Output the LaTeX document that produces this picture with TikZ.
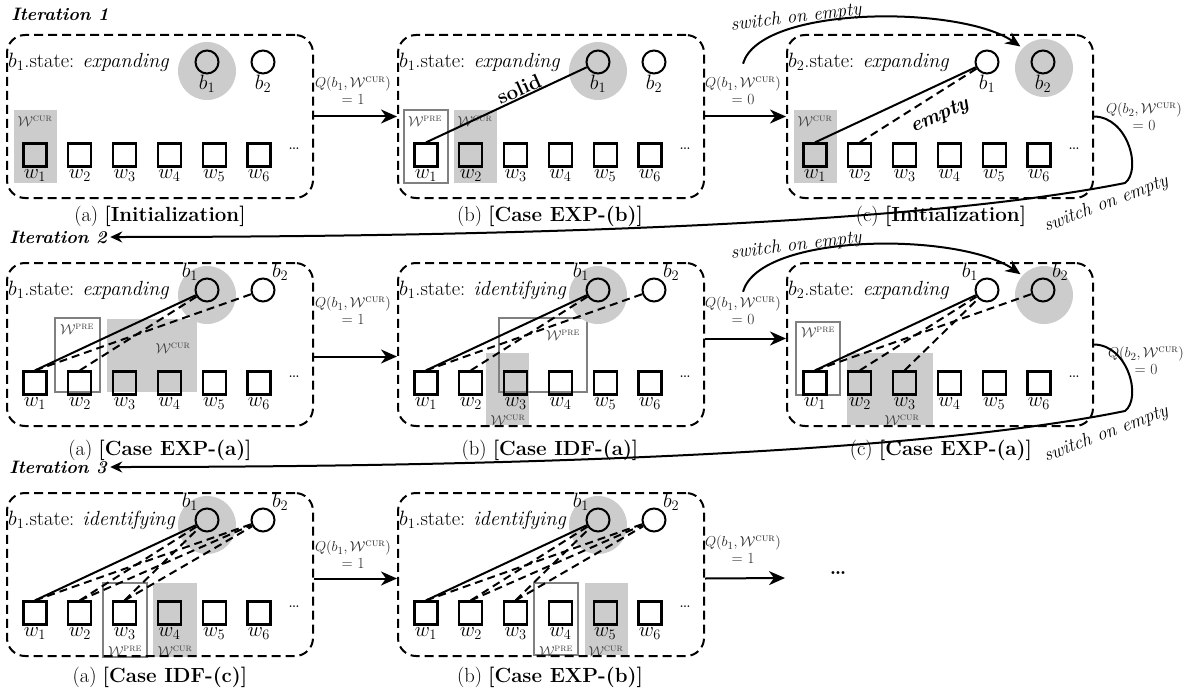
\documentclass[tikz,border=0pt]{standalone}
\usepackage{amsmath}
\usepackage{amssymb}
\usepackage{tikz}
\usepackage{xcolor}
\usetikzlibrary{arrows.meta}

\definecolor{wingray}{gray}{0.8}
\definecolor{preedge}{gray}{0.5}

\newcommand{\Wcur}{$\mathcal{W}^{\textsc{cur}}$}
\newcommand{\Wpre}{$\mathcal{W}^{\textsc{pre}}$}

% #1 name, #2 #3 top left corner, #4 state text, #5 #6 label sides of b1 b2, #7 windows
\newcommand{\casepanel}[7]{%
  \begin{scope}[shift={(#2,#3)}]
    #7
    \node[panelbox] (#1) at (153,81.5) {};
    \node[statetxt] (#1-st) at (1,27) {#4};
    \node[bnode,label={[blab]#5:$b_1$}] (#1-b1) at (200,27) {};
    \node[bnode,label={[blab]#6:$b_2$}] (#1-b2) at (256,27) {};
    \foreach \i in {1,...,6}
      \node[wnode,label={[wlabel]below:$w_{\i}$}] (#1-w\i) at ({28+44.8*(\i-1)},120) {};
    \node (#1-dots) at (287,114) {\dots};
  \end{scope}}

\begin{document}
\begin{tikzpicture}[x=1pt,y=-1pt,font=\fontsize{20.5}{24}\selectfont,
  panelbox/.style={draw,line width=2pt,dash pattern=on 9pt off 5pt,rounded corners=18pt,
    minimum width=306pt,minimum height=163pt,inner sep=0pt},
  statetxt/.style={anchor=west,inner sep=0pt},
  bnode/.style={draw,circle,line width=2pt,minimum size=23pt,inner sep=0pt},
  wnode/.style={draw,line width=2.2pt,minimum size=23pt,inner sep=0pt},
  blab/.style={inner sep=0pt},
  wlabel/.style={inner sep=2pt},
  winlab/.style={font=\fontsize{15}{16}\selectfont,inner sep=0pt,text=black!75},
  prewin/.style={draw=preedge,line width=1.6pt},
  solidlink/.style={line width=2pt},
  dashlink/.style={line width=2pt,dash pattern=on 8pt off 5pt},
  qlab/.style={font=\fontsize{15.5}{17}\selectfont,align=center,inner sep=1pt,text=black!85},
  itlab/.style={font=\fontsize{18}{21}\selectfont\bfseries\itshape},
  swlab/.style={font=\fontsize{19}{21}\selectfont\itshape,inner sep=1pt},
  flow/.style={line width=2pt,-{Stealth[length=16pt,width=14pt,inset=5pt]}},
  swarrow/.style={line width=2pt,-{Stealth[length=15pt,width=13pt,inset=5pt]},shorten >=15pt},
  backarrow/.style={line width=2pt,-{Stealth[length=12pt,width=11pt,inset=4pt]}}]
\useasboundingbox (0,0) rectangle (1190,698);

\node[itlab] (it1) at (60,14) {Iteration 1};
\node[itlab] (it2) at (58,237) {Iteration 2};
\node[itlab] (it3) at (58,467) {Iteration 3};

% iteration 1
\casepanel{r1a}{7}{35}{$b_1$.state: \textit{expanding}}{below}{below}{
  \fill[wingray] (6.5,75) rectangle (49.5,148);
  \node[winlab] (r1a-cur) at (28,86) {\Wcur};
  \fill[wingray] (200,36) circle (29pt);}
\casepanel{r1b}{398}{35}{$b_1$.state: \textit{expanding}}{below}{below}{
  \draw[prewin] (6,75) rectangle (50,148);
  \node[winlab] (r1b-pre) at (27,86) {\Wpre};
  \fill[wingray] (56,75) rectangle (99,148);
  \node[winlab] (r1b-cur) at (77,86) {\Wcur};
  \fill[wingray] (200,36) circle (29pt);}
\casepanel{r1c}{787}{35}{$b_2$.state: \textit{expanding}}{below}{below}{
  \fill[wingray] (6.5,75) rectangle (49.5,148);
  \node[winlab] (r1c-cur) at (28,86) {\Wcur};
  \fill[wingray] (257,33) circle (29pt);}

\draw[solidlink] (r1b-w1.north) -- (r1b-b1);
\node[rotate=24,inner sep=1pt] (r1b-solid) at (519,89) {\textbf{solid}};
\draw[solidlink] (r1c-w1.north) -- (r1c-b1);
\draw[dashlink] (r1c-w2.north) -- (r1c-b1);
\node[rotate=24,inner sep=1pt] (r1c-empty) at (940,116) {\textbf{\textit{empty}}};

\node[qlab] (q1ab) at (353,91) {$Q(b_1,\mathcal{W}^{\textsc{cur}})$\\= 1};
\draw[flow] (r1a.east) -- (r1b.west);
\node[qlab] (q1bc) at (743,91) {$Q(b_1,\mathcal{W}^{\textsc{cur}})$\\= 0};
\draw[flow] (r1b.east) -- (r1c.west);
\draw[swarrow] ([yshift=12pt]q1bc.north) .. controls (760,5) and (960,5) .. (r1c-b2);
\node[swlab,rotate=7] (sw1) at (796,18) {switch on empty};
\node[qlab] (q1c) at (1144,117) {$Q(b_2,\mathcal{W}^{\textsc{cur}})$\\= 0};
\draw[backarrow] (r1c.east) .. controls (1128,117) and (1142,170) .. (1125,183)
  .. controls (900,228) and (450,237) .. (it2.east);
\node[swlab,rotate=21] (sw1b) at (1106,204) {switch on empty};

\node (c1a) at (160,216) {(a) \textbf{[Initialization]}};
\node (c1b) at (550,216) {(b) \textbf{[Case EXP-(b)]}};
\node (c1c) at (941,216) {(c) \textbf{[Initialization]}};

% iteration 2
\casepanel{r2a}{7}{263}{$b_1$.state: \textit{expanding}}{above left}{above right}{
  \draw[prewin] (48,55) rectangle (93,129);
  \node[winlab] (r2a-pre) at (70,66) {\Wpre};
  \fill[wingray] (100,56) rectangle (190,129);
  \node[winlab] (r2a-cur) at (166,85) {\Wcur};
  \fill[wingray] (200,32) circle (29pt);}
\casepanel{r2b}{398}{263}{$b_1$.state: \textit{identifying}}{above left}{above right}{
  \fill[wingray] (88,90) rectangle (131,162);
  \node[winlab] (r2b-cur) at (110,157) {\Wcur};
  \draw[prewin] (101,55) rectangle (189,129);
  \node[winlab] (r2b-pre) at (165,72) {\Wpre};
  \fill[wingray] (200,32) circle (29pt);}
\casepanel{r2c}{787}{263}{$b_2$.state: \textit{expanding}}{above left}{above right}{
  \fill[wingray] (60,90) rectangle (146,162);
  \node[winlab] (r2c-cur) at (115,157) {\Wcur};
  \draw[prewin] (9,59) rectangle (53,132);
  \node[winlab] (r2c-pre) at (31,69) {\Wpre};
  \fill[wingray] (257,32) circle (29pt);}

\node[qlab] (q2ab) at (353,311) {$Q(b_1,\mathcal{W}^{\textsc{cur}})$\\= 1};
\draw[flow] ([yshift=-12pt]r2a.east) -- ([yshift=-12pt]r2b.west);
\node[qlab] (q2bc) at (743,311) {$Q(b_1,\mathcal{W}^{\textsc{cur}})$\\= 0};
\draw[flow] ([yshift=6pt]r2b.east) -- ([yshift=6pt]r2c.west);
\draw[swarrow] ([yshift=4pt]q2bc.north) .. controls (760,232) and (960,232) .. (r2c-b2);
\node[swlab,rotate=7] (sw2) at (796,246) {switch on empty};
\node[qlab] (q2c) at (1146,361) {$Q(b_2,\mathcal{W}^{\textsc{cur}})$\\= 0};
\draw[backarrow] (r2c.east) .. controls (1128,345) and (1142,398) .. (1125,411)
  .. controls (900,457) and (450,467) .. (it3.east);
\node[swlab,rotate=21] (sw2b) at (1106,434) {switch on empty};

\node (c2a) at (160,450) {(a) \textbf{[Case EXP-(a)]}};
\node (c2b) at (550,450) {(b) \textbf{[Case IDF-(a)]}};
\node (c2c) at (941,450) {(c) \textbf{[Case EXP-(a)]}};

% iteration 3
\casepanel{r3a}{7}{493}{$b_1$.state: \textit{identifying}}{above left}{above right}{
  \draw[prewin] (96,90) rectangle (140,164);
  \node[winlab] (r3a-pre) at (118,158) {\Wpre};
  \fill[wingray] (146,90) rectangle (190,164);
  \node[winlab] (r3a-cur) at (168,158) {\Wcur};
  \fill[wingray] (200,32) circle (29pt);}
\casepanel{r3b}{398}{493}{$b_1$.state: \textit{identifying}}{above left}{above right}{
  \draw[prewin] (136,90) rectangle (180,162);
  \node[winlab] (r3b-pre) at (158,158) {\Wpre};
  \fill[wingray] (187,90) rectangle (230,162);
  \node[winlab] (r3b-cur) at (208,158) {\Wcur};
  \fill[wingray] (200,32) circle (29pt);}

\foreach \p in {r2a,r2b,r2c,r3a,r3b} {
  \draw[solidlink] (\p-w1.north) -- (\p-b1);
  \draw[dashlink] (\p-w1.north) -- (\p-b2);
  \draw[dashlink] (\p-w2.north) -- (\p-b1);
}
\foreach \p in {r2c,r3a,r3b}
  \draw[dashlink] (\p-w3.north) -- (\p-b1);
\foreach \p in {r3a,r3b} {
  \draw[dashlink] (\p-w2.north) -- (\p-b2);
  \draw[dashlink] (\p-w3.north) -- (\p-b2);
}

\node[qlab] (q3ab) at (353,555) {$Q(b_1,\mathcal{W}^{\textsc{cur}})$\\= 1};
\draw[flow] ([yshift=-4pt]r3a.east) -- ([yshift=-4pt]r3b.west);
\node[qlab] (q3b) at (743,550) {$Q(b_1,\mathcal{W}^{\textsc{cur}})$\\= 1};
\coordinate (moreend) at (785,578);
\draw[flow] ([yshift=-4pt]r3b.east) -- (moreend);
\node (more) at (838,573) {\textbf{\dots}};

\node (c3a) at (160,677) {(a) \textbf{[Case IDF-(c)]}};
\node (c3b) at (550,677) {(b) \textbf{[Case EXP-(b)]}};
\end{tikzpicture}
\end{document}
